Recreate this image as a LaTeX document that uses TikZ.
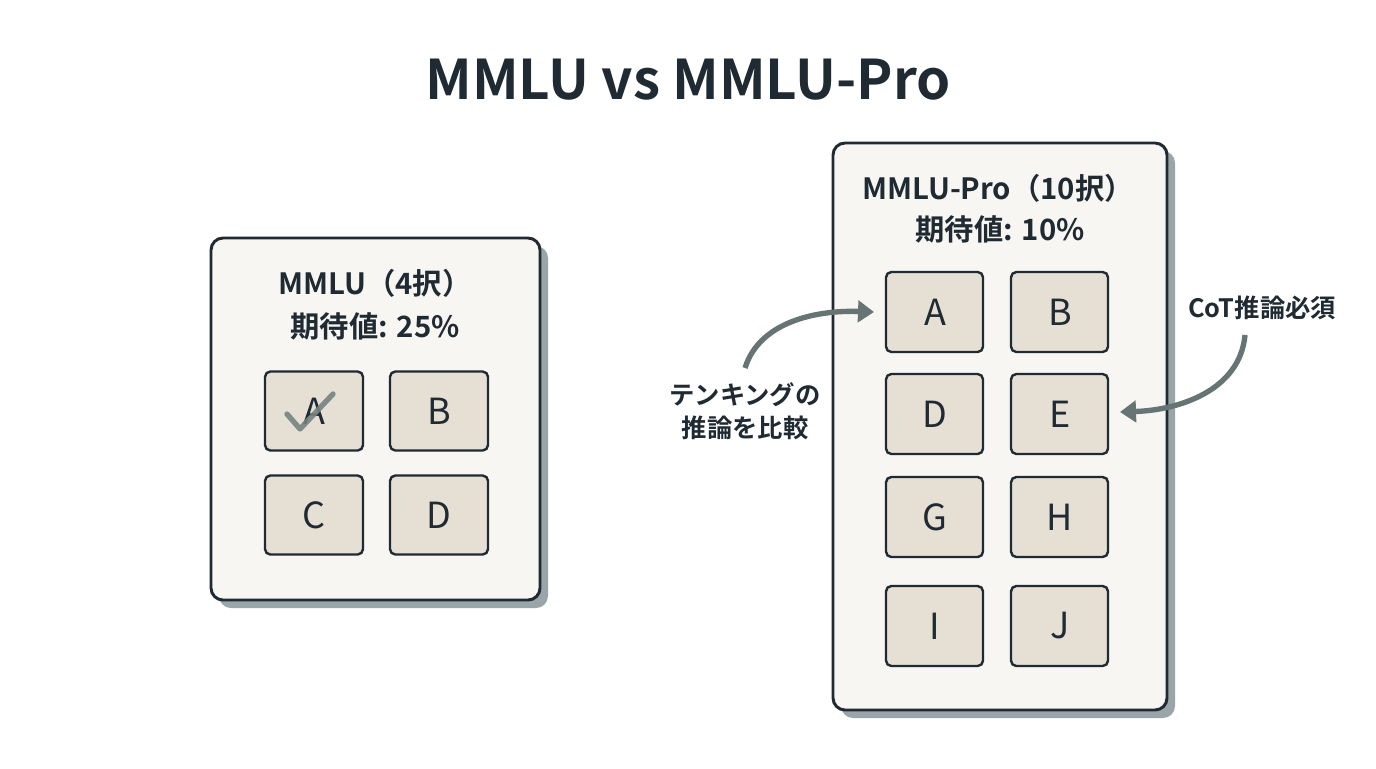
\documentclass[tikz,border=0pt]{standalone}
\usepackage{fontspec}
\setmainfont{Noto Sans CJK JP}[BoldFont={* Bold}]
\usetikzlibrary{arrows.meta}
\definecolor{ink}{HTML}{1F2A33}
\definecolor{panel}{HTML}{F7F6F2}
\definecolor{shade}{HTML}{9AA5AA}
\definecolor{opt}{HTML}{E6E0D4}
\definecolor{arr}{HTML}{667573}
\begin{document}
\begin{tikzpicture}[x=0.75pt,y=-0.75pt,
  panel/.style={draw=ink,line width=2.2pt,fill=panel,rounded corners=9pt},
  sh/.style={fill=shade,rounded corners=9pt},
  opt/.style={draw=ink,line width=1.8pt,fill=opt,rounded corners=4pt},
  lt/.style={font=\fontsize{27}{27}\selectfont,text=ink},
  hd/.style={font=\bfseries\fontsize{22}{24}\selectfont,text=ink},
  an/.style={font=\bfseries\fontsize{19}{25}\selectfont,text=ink,align=center},
  ar/.style={draw=arr,line width=4pt,-{Triangle[length=12pt,width=16pt]}}]
\useasboundingbox[fill=white] (0,0) rectangle (1376,768);
\node[font=\bfseries\fontsize{41}{46}\selectfont,text=ink] (title) at (688,80) {MMLU vs MMLU-Pro};
% left panel
\fill[sh] (219,246) rectangle (548,608);
\draw[panel] (211,238) rectangle (540,600);
\node[hd] (lh) at (375,283) {MMLU（4択）};
\node[hd] (ls) at (375,326) {期待値: 25\%};
\foreach \n/\x/\y in {A/314/411, B/439/411, C/314/515, D/439/515}{
  \draw[opt] (\x-49,\y-39.5) rectangle (\x+49,\y+39.5);
  \node[lt] (l\n) at (\x,\y) {\n};}
\draw[arr!90,line width=4pt,line cap=round,line join=round,opacity=0.9] (287,414) -- (300,429) -- (333,394);
% right panel
\fill[sh] (841,151) rectangle (1175,718);
\draw[panel] (833,143) rectangle (1167,710);
\node[hd] (rh) at (998,188) {MMLU-Pro（10択）};
\node[hd] (rs) at (1000,229) {期待値: 10\%};
\foreach \n/\x/\y in {A/937/312, B/1062/312, D/937/414, E/1062/414, G/937/517, H/1062/517, I/937/626, J/1062/626}{
  \draw[opt] (\x-51,\y-40) rectangle (\x+46,\y+40);
  \node[lt] (r\n) at (\x-2,\y) {\n};}
% annotations
\node[an] (tl) at (745,411) {テンキングの\\推論を比較};
\coordinate (s1) at (745,368);
\draw[ar] (s1) .. controls (760,320) and (820,310) .. (874,312);
\node[an] (tr) at (1262,308) {CoT推論必須};
\coordinate (s2) at (1245,335);
\draw[ar] (s2) .. controls (1240,390) and (1180,410) .. (1120,412);
\end{tikzpicture}
\end{document}
